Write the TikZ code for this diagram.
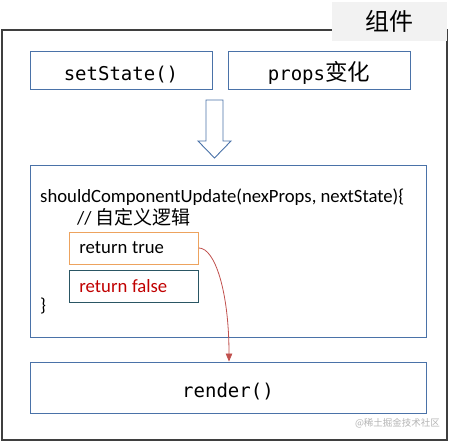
\documentclass[tikz,border=0pt]{standalone}
\usepackage{fontspec}
\setmainfont{Carlito}
\newfontfamily\cjk{Noto Sans CJK SC}
\newfontfamily\mono{DejaVu Sans Mono}
\usetikzlibrary{arrows.meta}
\definecolor{framegray}{HTML}{3F3F3F}
\definecolor{boxblue}{HTML}{4A72A8}
\definecolor{boxorange}{HTML}{EDA35E}
\definecolor{boxteal}{HTML}{2A5664}
\definecolor{falsered}{HTML}{C00000}
\definecolor{curvered}{HTML}{C0504D}
\definecolor{labelgray}{HTML}{F2F2F2}
\definecolor{wmgray}{HTML}{B4B4B4}
\tikzset{
  bluebox/.style={draw=boxblue, line width=0.9pt, rectangle, inner sep=0pt},
  codebox/.style={rectangle, line width=0.9pt, inner xsep=10pt, inner ysep=0pt,
    minimum height=32pt, text width=109pt, align=left, anchor=west,
    font=\fontsize{18.7}{20}\selectfont},
  monotext/.style={font=\fontsize{19}{22}\selectfont\mono, text height=20pt, text depth=0pt},
  codetext/.style={font=\fontsize{18.7}{22}\selectfont, anchor=base west, inner sep=0pt},
}
\begin{document}
\begin{tikzpicture}[x=1pt, y=-1pt]
\useasboundingbox (0,0) rectangle (452,442);
% outer frame
\draw[framegray, line width=2.5pt] (2,30) rectangle (447,440);
\node[fill=labelgray, minimum width=115pt, minimum height=39pt, inner sep=0pt,
      font=\fontsize{24}{26}\selectfont\cjk] (label) at (389.5,21.5) {组件};
% top boxes
\node[bluebox, minimum width=182pt, minimum height=38pt, monotext] (set) at (121,70) {setState()};
\node[bluebox, minimum width=182pt, minimum height=38pt, monotext] (props) at (319,70)
  {props{\fontsize{22.5}{24}\selectfont\cjk 变化}};
% block arrow
\draw[boxblue, line width=0.9pt, fill=white]
  (206,100) -- (223,100) -- (223,141) -- (231,141) -- (214.5,158) -- (198,141) -- (206,141) -- cycle;
% big box
\node[bluebox, minimum width=396pt, minimum height=172pt] (scu) at (228,251) {};
\node[codetext] (sig) at (40,202) {shouldComponentUpdate(nexProps, nextState)\{};
\node[codetext] (cmt) at (77,224) {// {\fontsize{19}{22}\selectfont\cjk 自定义逻辑}};
\node[codebox, draw=boxorange] (rt) at (69,248) {return\hspace{-1.5pt} true};
\node[codebox, draw=boxteal, text=falsered] (rf) at (69,286) {return\hspace{-1.5pt} false};
\node[codetext] (close) at (40,311) {\}};
% render box
\node[bluebox, minimum width=396pt, minimum height=51pt, monotext] (render) at (228,387.5) {render()};
% curved arrow
\draw[curvered, line width=0.8pt, -{Triangle[length=8pt,width=6.5pt]}]
  (rt.east) .. controls ([xshift=16pt]rt.east) and ([xshift=1pt,yshift=70pt]render.north) .. ([xshift=1pt]render.north);
% watermark
\node[text=wmgray, font=\fontsize{9.5}{11}\selectfont\cjk, inner sep=0pt] (wm) at (397.5,423) {@稀土掘金技术社区};
\end{tikzpicture}
\end{document}
